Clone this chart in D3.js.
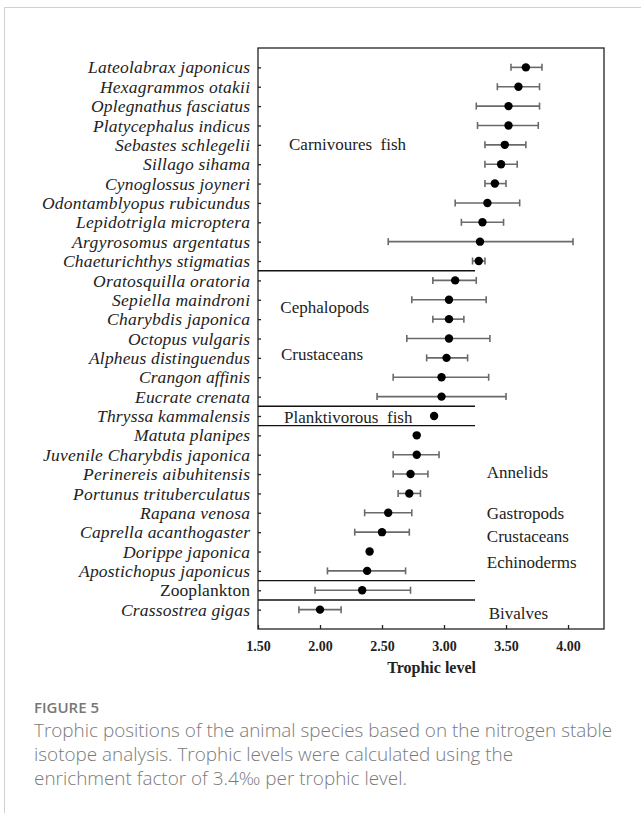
<!DOCTYPE html>
<html>
<head>
<meta charset="utf-8">
<script src="https://cdn.jsdelivr.net/npm/d3@7"></script>
<style>
  body { margin: 0; background: #fff; }
  svg { display: block; }
</style>
</head>
<body>
<div id="chart"></div>
<script>
// species, top to bottom
var species = ["Lateolabrax japonicus","Hexagrammos otakii","Oplegnathus fasciatus","Platycephalus indicus",
  "Sebastes schlegelii","Sillago sihama","Cynoglossus joyneri","Odontamblyopus rubicundus",
  "Lepidotrigla microptera","Argyrosomus argentatus","Chaeturichthys stigmatias","Oratosquilla oratoria",
  "Sepiella maindroni","Charybdis japonica","Octopus vulgaris","Alpheus distinguendus","Crangon affinis",
  "Eucrate crenata","Thryssa kammalensis","Matuta planipes","Juvenile Charybdis japonica",
  "Perinereis aibuhitensis","Portunus trituberculatus","Rapana venosa","Caprella acanthogaster",
  "Dorippe japonica","Apostichopus japonicus","Zooplankton","Crassostrea gigas"];
// italic except these
var uprightNames = ["Zooplankton"];

var trophic = [3.66,3.60,3.52,3.52,3.49,3.46,3.41,3.35,3.31,3.29,3.28,3.09,3.04,3.04,3.04,3.02,2.98,
  2.98,2.92,2.78,2.78,2.73,2.72,2.55,2.50,2.40,2.38,2.34,2.00];
var lower = [3.54,3.43,3.26,3.27,3.33,3.33,3.33,3.09,3.14,2.55,3.23,2.91,2.74,2.91,2.70,2.86,2.59,
  2.46,null,null,2.59,2.59,2.63,2.36,2.28,null,2.06,1.96,1.83];
var upper = [3.79,3.77,3.77,3.76,3.66,3.59,3.50,3.61,3.48,4.04,3.33,3.26,3.34,3.16,3.37,3.19,3.36,
  3.50,null,null,2.96,2.87,2.81,2.74,2.72,null,2.69,2.73,2.17];

// horizontal separator lines sit after these row indices
var dividerAfter = [10,17,18,26,27];
var dividerEnd = 3.25;

var groupNames = ["Carnivoures  fish","Cephalopods","Crustaceans","Planktivorous  fish",
  "Annelids","Gastropods","Crustaceans","Echinoderms","Bivalves"];
var groupRow = [3.95,12.4,14.8,18.05,20.9,23.0,24.2,25.55,28.2];
var groupX = [1.75,1.68,1.685,1.71,3.345,3.345,3.345,3.345,3.36];

var xTicks = [1.5,2.0,2.5,3.0,3.5,4.0];

// rendered width of each species label in the original figure (its letter spacing varies)
var labelWidth = [162,150,159,157,135,107,145,208,174,178,187,157,138,143,122,161,111,115,153,116,
  207,167,177,110,170,127,171,90,129];

var W = 641, H = 813;
var plotL = 258, plotR = 604, plotT = 48, plotB = 629;

var svg = d3.select("#chart").append("svg").attr("width", W).attr("height", H);

// card border (left + top)
svg.append("path").attr("d", "M4.5,813 V7.5 H641")
  .attr("fill","none").attr("stroke","#d0d0d0").attr("stroke-width",1);

var x = d3.scaleLinear().domain([1.5, 4.29]).range([plotL, plotR]);
var rowIdx = d3.range(species.length);
var y = d3.scaleLinear().domain([-1, species.length]).range([plotT, plotB]);

var serif = "'Liberation Serif','Times New Roman',serif";

// frame
svg.append("rect").attr("x", plotL).attr("y", plotT).attr("width", plotR-plotL).attr("height", plotB-plotT)
  .attr("fill","none").attr("stroke","#222").attr("stroke-width",1.3);

// x axis (ticks pointing inward)
var xAxis = svg.append("g").attr("transform","translate(0,"+plotB+")")
  .call(d3.axisBottom(x).tickValues(xTicks).tickSizeInner(-4).tickSizeOuter(0).tickPadding(12).tickFormat(d3.format(".2f")));
xAxis.select(".domain").remove();
xAxis.selectAll("line").attr("stroke","#222").attr("stroke-width",1.3);
xAxis.selectAll("text").attr("font-family",serif).attr("font-size","14px").attr("font-weight","bold").attr("fill","#222");

svg.append("text").attr("x", x(2.9)).attr("y", 673).attr("text-anchor","middle")
  .attr("font-family",serif).attr("font-size","16px").attr("font-weight","bold").attr("fill","#222")
  .text("Trophic  level");

// y axis labels with inward ticks
var yAxis = svg.append("g").attr("transform","translate("+plotL+",0)")
  .call(d3.axisLeft(y).tickValues(rowIdx).tickSizeInner(-3).tickSizeOuter(0).tickPadding(8)
    .tickFormat(function(i){ return species[i]; }));
yAxis.select(".domain").remove();
yAxis.selectAll("line").attr("stroke","#222").attr("stroke-width",1.3);
yAxis.selectAll("text").attr("font-family",serif).attr("font-size","17.5px").attr("fill","#222")
  .attr("font-style", function(i){ return uprightNames.indexOf(species[i]) >= 0 ? "normal" : "italic"; })
  .attr("textLength", function(i){ return labelWidth[i]; })
  .attr("lengthAdjust","spacing");

// dividers
svg.append("g").selectAll("line").data(dividerAfter).join("line")
  .attr("x1", plotL).attr("x2", x(dividerEnd))
  .attr("y1", function(d){ return y(d+0.5); }).attr("y2", function(d){ return y(d+0.5); })
  .attr("stroke","#111").attr("stroke-width",1.4);

// error bars
var withErr = rowIdx.filter(function(i){ return lower[i] != null; });
var eb = svg.append("g").attr("stroke","#6a6a6a").attr("stroke-width",1.6);
eb.selectAll(".bar").data(withErr).join("line").attr("class","bar")
  .attr("x1", function(i){ return x(lower[i]); }).attr("x2", function(i){ return x(upper[i]); })
  .attr("y1", function(i){ return y(i); }).attr("y2", function(i){ return y(i); });
eb.selectAll(".capl").data(withErr).join("line").attr("class","capl")
  .attr("x1", function(i){ return x(lower[i]); }).attr("x2", function(i){ return x(lower[i]); })
  .attr("y1", function(i){ return y(i)-3.5; }).attr("y2", function(i){ return y(i)+3.5; });
eb.selectAll(".capu").data(withErr).join("line").attr("class","capu")
  .attr("x1", function(i){ return x(upper[i]); }).attr("x2", function(i){ return x(upper[i]); })
  .attr("y1", function(i){ return y(i)-3.5; }).attr("y2", function(i){ return y(i)+3.5; });

// points
svg.append("g").selectAll("circle").data(rowIdx).join("circle")
  .attr("cx", function(i){ return x(trophic[i]); }).attr("cy", function(i){ return y(i); })
  .attr("r", 4.2).attr("fill","#000");

// group labels
svg.append("g").selectAll("text").data(groupNames).join("text")
  .attr("x", function(d,i){ return x(groupX[i]); })
  .attr("y", function(d,i){ return y(groupRow[i]); })
  .attr("dy","0.35em")
  .attr("font-family",serif).attr("font-size","17px").attr("fill","#222")
  .style("white-space","pre")
  .text(function(d){ return d; });

// caption
var sans = "'Open Sans','Noto Sans',sans-serif";
svg.append("text").attr("x",34).attr("y",713).attr("font-family",sans).attr("font-size","15px")
  .attr("font-weight","600").attr("fill","#777").text("FIGURE 5");
var capLines = ["Trophic positions of the animal species based on the nitrogen stable",
  "isotope analysis. Trophic levels were calculated using the",
  "enrichment factor of 3.4‰ per trophic level."];
svg.append("g").selectAll("text").data(capLines).join("text")
  .attr("x",34).attr("y", function(d,i){ return 737 + i*24; })
  .attr("font-family",sans).attr("font-size","18.9px").attr("font-weight","300").attr("fill","#7a7a7a")
  .text(function(d){ return d; });
</script>
</body>
</html>
